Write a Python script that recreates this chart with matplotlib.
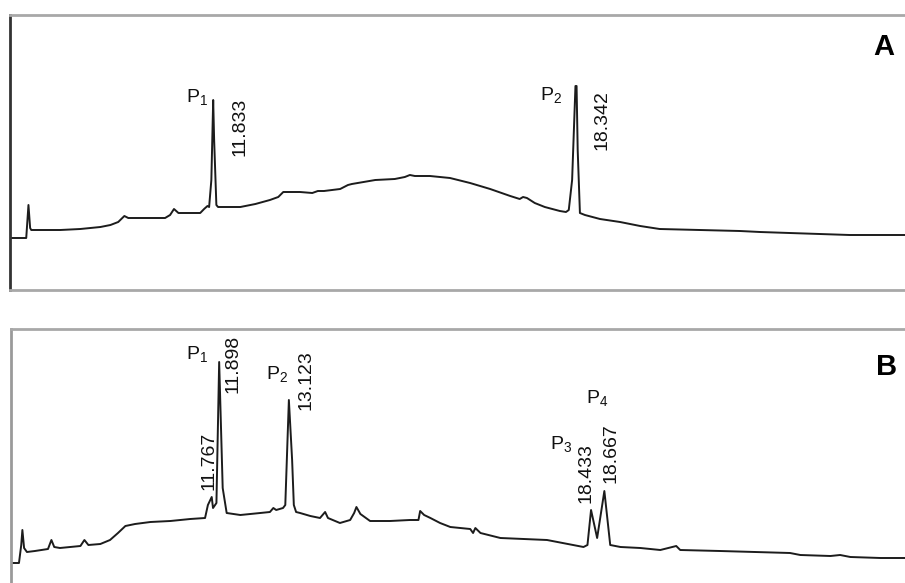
import numpy as np
import matplotlib
matplotlib.use('Agg')
from matplotlib import pyplot as plt

plt.rcParams['font.family'] = ['Liberation Sans', 'DejaVu Sans']
plt.rcParams['mathtext.fontset'] = 'custom'
plt.rcParams['mathtext.rm'] = 'Liberation Sans'

# Chromatogram A: retention time (min) / detector signal (a.u.)
time_a = [8.18, 8.48, 8.52, 8.55, 8.57, 8.82, 9.09, 9.45, 9.81, 9.99,
          10.13, 10.24, 10.31, 10.61, 10.97, 11.06, 11.13, 11.21, 11.60, 11.67,
          11.73, 11.76, 11.80, 11.833, 11.85, 11.89, 11.92, 12.32, 12.59, 12.85,
          13.00, 13.09, 13.39, 13.61, 13.71, 13.82, 14.11, 14.25, 14.32, 14.74,
          15.09, 15.27, 15.36, 15.45, 15.72, 16.08, 16.44, 16.80, 17.16, 17.33,
          17.39, 17.46, 17.60, 17.78, 18.05, 18.16, 18.21, 18.27, 18.33, 18.35,
          18.37, 18.41, 18.50, 18.77, 19.13, 19.49, 19.84, 20.56, 21.28, 21.64,
          22.17, 22.71, 23.25, 24.24]
signal_a = [52, 52, 85, 62, 60, 60, 60, 61, 63, 65,
            68, 74, 72, 72, 72, 75, 81, 77, 77, 81,
            84, 83, 110, 190, 150, 85, 83, 83, 86, 90,
            93, 98, 98, 97, 99, 99, 101, 105, 106, 110,
            111, 113, 115, 114, 114, 112, 107, 101, 94, 91,
            93, 92, 87, 83, 79, 78, 80, 110, 204, 204,
            140, 77, 75, 71, 68, 64, 61, 60, 59, 58,
            57, 56, 55, 55]

# Chromatogram B
time_b = [8.24, 8.38, 8.42, 8.44, 8.47, 8.52, 8.66, 8.89, 8.95, 9.00,
          9.10, 9.46, 9.53, 9.60, 9.81, 9.98, 10.12, 10.25, 10.42, 10.69,
          11.04, 11.39, 11.65, 11.70, 11.767, 11.79, 11.85, 11.898, 11.96, 12.03,
          12.27, 12.62, 12.79, 12.85, 12.90, 13.02, 13.06, 13.123, 13.18, 13.21,
          13.25, 13.32, 13.50, 13.67, 13.76, 13.81, 14.02, 14.20, 14.27, 14.31,
          14.38, 14.55, 14.90, 15.25, 15.40, 15.43, 15.50, 15.61, 15.78, 15.96,
          16.31, 16.36, 16.40, 16.49, 16.84, 17.66, 18.30, 18.37, 18.433, 18.54,
          18.667, 18.77, 18.95, 19.30, 19.65, 19.93, 20.00, 20.70, 21.93, 22.11,
          22.64, 22.81, 22.99, 23.52, 23.95]
signal_b = [20, 20, 38, 53, 35, 31, 32, 34, 43, 36,
            35, 37, 43, 38, 39, 43, 50, 57, 59, 61,
            62, 64, 65, 78, 86, 75, 80, 221, 95, 70,
            68, 70, 71, 75, 73, 75, 78, 183, 123, 78,
            71, 70, 67, 65, 71, 65, 60, 63, 70, 76,
            69, 62, 62, 63, 63, 72, 68, 65, 60, 56,
            54, 50, 55, 50, 45, 43, 36, 38, 73, 45,
            92, 38, 36, 35, 33, 37, 33, 32, 30, 28,
            27, 28, 26, 25, 25]

peaks_a = [11.833, 18.342]
names_a = ['P$_1$', 'P$_2$']
peaks_b = [11.767, 11.898, 13.123, 18.433, 18.667]
names_b = {11.898: 'P$_1$', 13.123: 'P$_2$', 18.433: 'P$_3$', 18.667: 'P$_4$'}

fig = plt.figure(figsize=(9.05, 5.83), dpi=100)
ax_a = fig.add_axes([9.5 / 905, 1 - 290 / 583, 1 - 9.5 / 905, 275 / 583])
ax_b = fig.add_axes([11 / 905, 0, 1 - 11 / 905, 1 - 329 / 583])

line_kw = dict(color='#1c1c1c', lw=1.4, solid_joinstyle='round')
ax_a.plot(time_a, signal_a, **line_kw)
ax_b.plot(time_b, signal_b, **line_kw)

ax_a.set_xlim(8.18, 24.24)
ax_a.set_ylim(0, 275)
ax_b.set_xlim(8.24, 23.95)
ax_b.set_ylim(0, 254)

for ax in (ax_a, ax_b):
    ax.set_xticks([])
    ax.set_yticks([])
    ax.spines['right'].set_visible(False)
    ax.spines['top'].set_color('#a8a8a8')
    ax.spines['top'].set_linewidth(2)
ax_a.spines['left'].set_color('#333333')
ax_a.spines['left'].set_linewidth(2)
ax_a.spines['bottom'].set_color('#a8a8a8')
ax_a.spines['bottom'].set_linewidth(2)
ax_b.spines['left'].set_color('#9a9a9a')
ax_b.spines['left'].set_linewidth(2)
ax_b.spines['bottom'].set_visible(False)


def label(ax, t, s, txt, dx, dy, rotated=False, va='center'):
    y = np.interp(t, ax.lines[0].get_xdata(), ax.lines[0].get_ydata())
    ax.annotate(txt, xy=(t, y), xytext=(dx, dy), textcoords='offset pixels',
                ha='center', va=va, rotation=90 if rotated else 0,
                fontsize=14, color='#111111')


# panel A
label(ax_a, peaks_a[0], None, names_a[0], -16, 2)
label(ax_a, peaks_a[0], None, '11.833', 27, 2, rotated=True, va='top')
label(ax_a, peaks_a[1], None, names_a[1], -25, -10)
label(ax_a, peaks_a[1], None, '18.342', 26, -4, rotated=True, va='top')

# panel B
label(ax_b, 11.898, None, names_b[11.898], -22, 7)
label(ax_b, 11.898, None, '11.898', 14, 27, rotated=True, va='top')
label(ax_b, 11.767, None, '11.767', -3, 7, rotated=True, va='bottom')
label(ax_b, 13.123, None, names_b[13.123], -12, 25)
label(ax_b, 13.123, None, '13.123', 17, 50, rotated=True, va='top')
label(ax_b, 18.433, None, names_b[18.433], -30, 65)
label(ax_b, 18.433, None, '18.433', -5, 7, rotated=True, va='bottom')
label(ax_b, 18.667, None, names_b[18.667], -7, 92)
label(ax_b, 18.667, None, '18.667', 7, 8, rotated=True, va='bottom')

fig.text(884 / 905, 1 - 47 / 583, 'A', fontsize=21, fontweight='bold', ha='center', va='center')
fig.text(887 / 905, 1 - 367 / 583, 'B', fontsize=21, fontweight='bold', ha='center', va='center')

plt.savefig('out.png', dpi=100)
